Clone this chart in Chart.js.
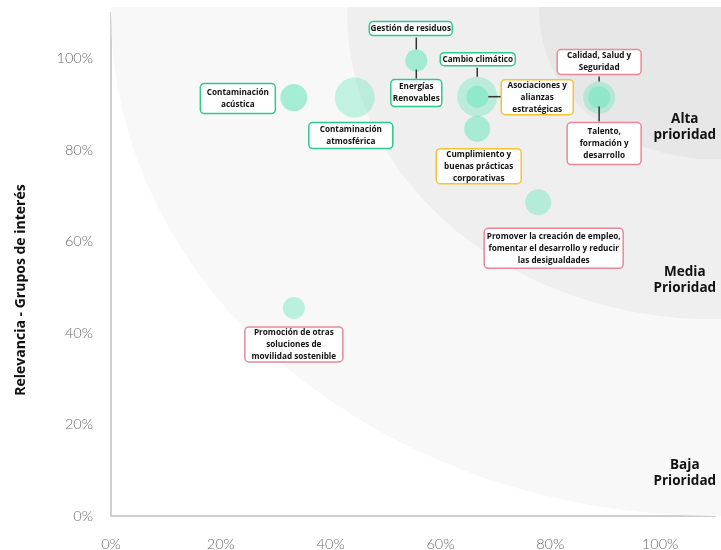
<!DOCTYPE html>
<html>
<head>
<meta charset="utf-8">
<script src="https://cdn.jsdelivr.net/npm/chart.js@4.4.1/dist/chart.umd.min.js"></script>
<style>
  html, body { margin: 0; padding: 0; background: #fff; }
</style>
</head>
<body>
<canvas id="matrizMaterialidad" width="721" height="550"></canvas>
<script>
// Temas materiales (eje X: impacto, eje Y: relevancia para grupos de interés)
const temas = [
  "Contaminación\nacústica",
  "Contaminación\natmosférica",
  "Gestión de residuos",
  "Energías\nRenovables",
  "Cambio climático",
  "Asociaciones y\nalianzas\nestratégicas",
  "Cumplimiento y\nbuenas prácticas\ncorporativas",
  "Calidad, Salud y\nSeguridad",
  "Talento,\nformación y\ndesarrollo",
  "Promover la creación de empleo,\nfomentar el desarrollo y reducir\nlas desigualdades",
  "Promoción de otras\nsoluciones de\nmovilidad sostenible",
];
const ambito = ["amb", "amb", "amb", "amb", "amb", "gob", "gob", "soc", "soc", "soc", "soc"];
const impacto = [33.3, 44.4, 55.6, 55.6, 66.7, 66.7, 66.7, 88.9, 88.9, 77.8, 33.3];
const relevancia = [91.5, 91.5, 99.6, 99.6, 91.7, 91.7, 84.7, 91.5, 91.5, 68.6, 45.5];
const tamano = [13.5, 20, 11, 11, 20, 11, 13, 16, 11, 13, 11];
const tickValues = [0, 20, 40, 60, 80, 100];
const zonas = [110, 67, 32];
const prioridades = ["Alta\nprioridad", "Media\nPrioridad", "Baja\nPrioridad"];

// estilos y colocación de etiquetas (px respecto al centro de la burbuja)
const opacidad = [0.6, 0.4, 0.35, 0.35, 0.4, 0.55, 0.55, 0.4, 0.55, 0.45, 0.45];
const etiquetas = [
  { dx: -56, dy: 1, w: 75, h: 30 },
  { dx: -4, dy: 38, w: 84, h: 26 },
  { dx: -5.5, dy: -32, w: 83, h: 14, line: "up" },
  { dx: 0, dy: 32.5, w: 51, h: 27, line: "down" },
  { dx: 0.5, dy: -37.5, w: 75, h: 13, line: "up" },
  { dx: 60, dy: 0.5, w: 72, h: 35, line: "right" },
  { dx: 1.5, dy: 37.5, w: 85, h: 35 },
  { dx: 0, dy: -35.5, w: 84, h: 25, line: "up" },
  { dx: 5, dy: 46, w: 74, h: 42, line: "down" },
  { dx: 15.5, dy: 46, w: 139, h: 40 },
  { dx: 0, dy: 36.5, w: 98, h: 35 },
];
const posPrioridad = [[104.5, 85], [104.5, 51.5], [104.5, 9.4]];
const bordes = { amb: "#2cc98d", gob: "#f7c232", soc: "#e8889a" };
const zonaColores = ["#f8f8f8", "#efefef", "#e7e7e7"];

const fondoZonas = {
  id: "fondoZonas",
  beforeDatasetsDraw(chart) {
    const { ctx, chartArea, scales } = chart;
    const x = scales.x, y = scales.y;
    const cx = x.getPixelForValue(110), cy = y.getPixelForValue(110);
    ctx.save();
    ctx.beginPath();
    ctx.rect(0, chartArea.top - 6, chart.width, chartArea.bottom - chartArea.top + 6);
    ctx.clip();
    zonas.forEach(function (R, i) {
      const rx = cx - x.getPixelForValue(110 - R);
      const ry = y.getPixelForValue(110 - R) - cy;
      ctx.beginPath();
      ctx.ellipse(cx, cy, rx, ry, 0, 0, Math.PI * 2);
      ctx.fillStyle = zonaColores[i];
      ctx.fill();
    });
    ctx.restore();
  },
};

function roundRect(ctx, x, y, w, h, r) {
  ctx.beginPath();
  ctx.moveTo(x + r, y);
  ctx.arcTo(x + w, y, x + w, y + h, r);
  ctx.arcTo(x + w, y + h, x, y + h, r);
  ctx.arcTo(x, y + h, x, y, r);
  ctx.arcTo(x, y, x + w, y, r);
  ctx.closePath();
}

const textos = {
  id: "textos",
  afterDatasetsDraw(chart) {
    const { ctx, scales } = chart;
    const meta = chart.getDatasetMeta(0);
    ctx.save();
    temas.forEach(function (t, i) {
      const p = meta.data[i];
      const e = etiquetas[i];
      const r = tamano[i];
      const bx = p.x + e.dx - e.w / 2;
      const by = p.y + e.dy - e.h / 2;
      ctx.strokeStyle = "#333";
      ctx.lineWidth = 1.5;
      ctx.beginPath();
      if (e.line === "up") {
        ctx.moveTo(p.x, by + e.h + 2);
        ctx.lineTo(p.x, p.y - r);
      } else if (e.line === "down") {
        ctx.moveTo(p.x, p.y + r - 2);
        ctx.lineTo(p.x, by - 1);
      } else if (e.line === "right") {
        ctx.moveTo(p.x + r, p.y);
        ctx.lineTo(bx, p.y);
      }
      ctx.stroke();

      roundRect(ctx, bx, by, e.w, e.h, 4);
      ctx.fillStyle = "#fff";
      ctx.fill();
      ctx.lineWidth = 1.5;
      ctx.strokeStyle = bordes[ambito[i]];
      ctx.stroke();

      const lines = t.split("\n");
      ctx.fillStyle = "#111";
      ctx.font = "bold 8.2px 'Open Sans'";
      ctx.textAlign = "center";
      ctx.textBaseline = "middle";
      const lh = 12;
      const cyText = by + e.h / 2;
      lines.forEach(function (l, k) {
        ctx.fillText(l, bx + e.w / 2, cyText + (k - (lines.length - 1) / 2) * lh);
      });
    });

    ctx.font = "bold 13.5px 'Open Sans'";
    ctx.fillStyle = "#111";
    prioridades.forEach(function (t, i) {
      const px = scales.x.getPixelForValue(posPrioridad[i][0]);
      const py = scales.y.getPixelForValue(posPrioridad[i][1]);
      const lines = t.split("\n");
      lines.forEach(function (l, k) {
        ctx.fillText(l, px, py + (k - 0.5) * 16);
      });
    });

    ctx.translate(21, 290);
    ctx.rotate(-Math.PI / 2);
    ctx.font = "bold 14px 'Open Sans'";
    ctx.fillText("Relevancia - Grupos de interés", 0, 0);
    ctx.restore();
  },
};

const ctx = document.getElementById("matrizMaterialidad").getContext("2d");
new Chart(ctx, {
  type: "bubble",
  data: {
    datasets: [
      {
        data: temas.map(function (t, i) {
          return { x: impacto[i], y: relevancia[i], r: tamano[i] };
        }),
        backgroundColor: opacidad.map(function (a) {
          return "rgba(110, 232, 190, " + a + ")";
        }),
        borderWidth: 0,
      },
    ],
  },
  options: {
    responsive: false,
    animation: false,
    events: [],
    layout: { autoPadding: false, padding: { top: 13, right: 6, left: 0, bottom: 0 } },
    plugins: { legend: { display: false }, tooltip: { enabled: false } },
    scales: {
      x: {
        min: 0,
        max: 110,
        grid: { display: false, drawTicks: false },
        border: { color: "#cfcfcf", width: 2 },
        afterBuildTicks: function (scale) {
          scale.ticks = tickValues.map(function (v) { return { value: v }; });
        },
        afterFit: function (scale) {
          scale.height = 34;
          scale.paddingLeft = 0;
          scale.paddingRight = 0;
        },
        ticks: {
          padding: 20,
          color: "#6b6b6b",
          font: { family: "Lato", size: 14.5, weight: "300" },
          callback: function (v) { return v + "%"; },
        },
      },
      y: {
        min: 0,
        max: 110,
        grid: { display: false, drawTicks: false },
        border: { color: "#cfcfcf", width: 2 },
        afterBuildTicks: function (scale) {
          scale.ticks = tickValues.map(function (v) { return { value: v }; });
        },
        afterFit: function (scale) {
          scale.width = 111;
          scale.paddingTop = 0;
          scale.paddingBottom = 0;
        },
        ticks: {
          padding: 18,
          color: "#6b6b6b",
          font: { family: "Lato", size: 14.5, weight: "300" },
          callback: function (v) { return v + "%"; },
        },
      },
    },
  },
  plugins: [fondoZonas, textos],
});
</script>
</body>
</html>
